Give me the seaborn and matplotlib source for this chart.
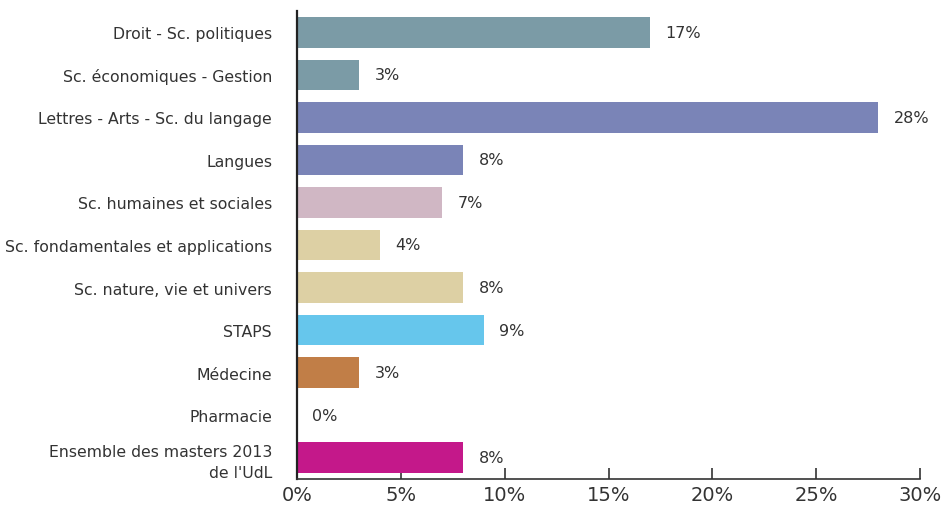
import matplotlib
matplotlib.use("Agg")
import matplotlib.pyplot as plt
import seaborn as sns
import pandas as pd

categories = [
    "Droit - Sc. politiques",
    "Sc. économiques - Gestion",
    "Lettres - Arts - Sc. du langage",
    "Langues",
    "Sc. humaines et sociales",
    "Sc. fondamentales et applications",
    "Sc. nature, vie et univers",
    "STAPS",
    "Médecine",
    "Pharmacie",
    "Ensemble des masters 2013\nde l'UdL",
]
values = [17, 3, 28, 8, 7, 4, 8, 9, 3, 0, 8]
colors = ["#7B9BA6", "#7B9BA6", "#7A84B7", "#7A84B7", "#D0B7C4", "#DDD0A4",
          "#DDD0A4", "#66C6EC", "#C17E47", "#C4188A", "#C4188A"]
xticks = [0, 5, 10, 15, 20, 25, 30]

df = pd.DataFrame({"cat": categories, "val": values})

sns.set_style("white")
plt.rcParams["font.family"] = ["DejaVu Sans"]

fig = plt.figure(figsize=(9.44, 5.10), dpi=100)
ax = fig.add_axes([297/944, 30/510, (920-297)/944, (480-12)/510])

sns.barplot(data=df, x="val", y="cat", hue="cat", palette=colors, orient="h",
            width=0.72, legend=False, ax=ax, saturation=1, linewidth=0)

for i, v in enumerate(values):
    ax.annotate(f"{v}%", xy=(v, i), xytext=(11, 0), textcoords="offset points",
                va="center", ha="left", fontsize=11.5, color="#333333")

ax.set_xlim(0, 30)
ax.set_ylim(10.5, -0.5)
ax.set_xticks(xticks)
ax.set_xticklabels([f"{t}%" for t in xticks], fontsize=14, color="#333333")
ax.tick_params(axis="x", bottom=True, direction="in", length=8, width=1.2,
               color="#333333", pad=4)
ax.tick_params(axis="y", left=False, length=0, pad=18, labelsize=11.3,
               labelcolor="#333333")
for lbl in ax.get_yticklabels():
    lbl.set_horizontalalignment("right")
    lbl.set_linespacing(1.5)
ax.set_xlabel("")
ax.set_ylabel("")
for s in ["top", "right"]:
    ax.spines[s].set_visible(False)
ax.spines["left"].set_color("#222222")
ax.spines["left"].set_linewidth(1.6)
ax.spines["bottom"].set_color("#333333")
ax.spines["bottom"].set_linewidth(1.2)

fig.savefig("out.png", dpi=100)
